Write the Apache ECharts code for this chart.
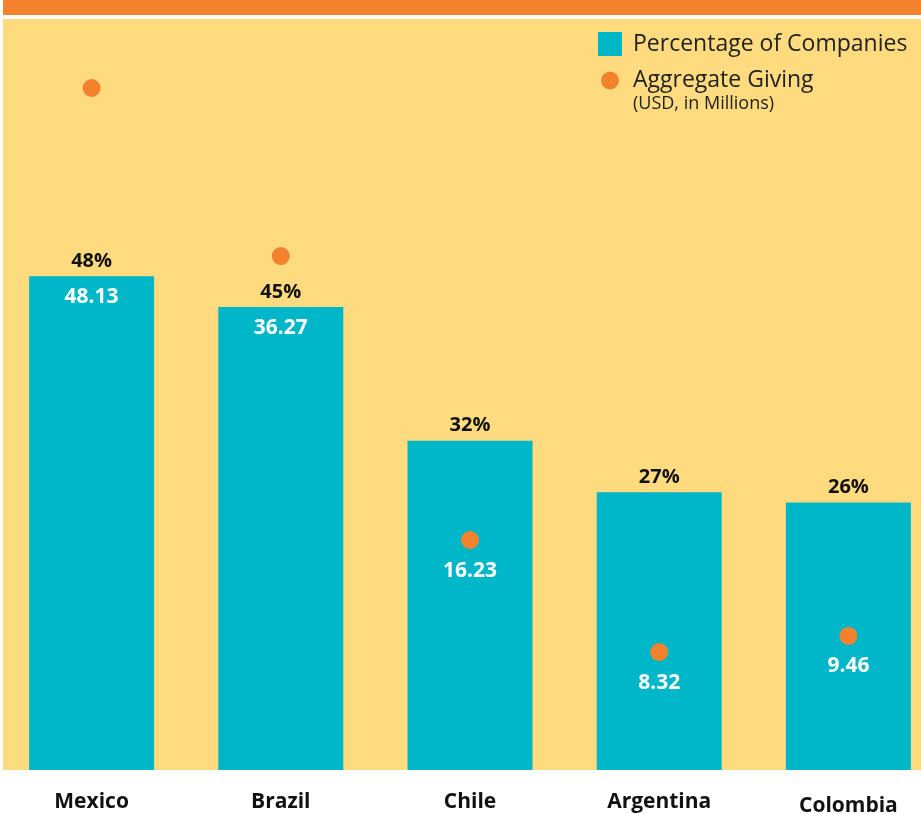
<!DOCTYPE html>
<html>
<head>
<meta charset="utf-8">
<script src="https://cdn.jsdelivr.net/npm/echarts@6/dist/echarts.min.js"></script>
<style>html,body{margin:0;padding:0;background:#fff}#c{width:921px;height:814px}</style>
</head>
<body>
<div id="c"></div>
<script>
var categories = ['Mexico', 'Brazil', 'Chile', 'Argentina', 'Colombia'];
var pctCompanies = [48, 45, 32, 27, 26];
var aggregateGiving = [48.13, 36.27, 16.23, 8.32, 9.46];

var PCT_MAX = 73;
var GIV_MAX = 53;
var TEAL = '#00B6C9', ORANGE = '#F4812B', YELLOW = '#FEDB7F';
var FONT = "'Open Sans', 'Noto Sans', sans-serif";

function dotAboveBar(i) { return aggregateGiving[i] / GIV_MAX > pctCompanies[i] / PCT_MAX; }

var chart = echarts.init(document.getElementById('c'));
chart.setOption({
  animation: false,
  backgroundColor: '#ffffff',
  graphic: [
    { type: 'rect', z: -10, shape: { x: 3, y: 0, width: 918, height: 15 }, style: { fill: ORANGE } },
    { type: 'rect', z: -10, shape: { x: 3, y: 19, width: 918, height: 751 }, style: { fill: YELLOW } },
    { type: 'text', left: 633, top: 95, style: { text: '(USD, in Millions)', fontSize: 18, fontFamily: FONT, fill: '#222' } }
  ],
  legend: [
    { data: ['Percentage of Companies'], orient: 'vertical', left: 598, top: 32, padding: 0, itemWidth: 24, itemHeight: 24, icon: 'rect',
      textStyle: { fontSize: 23, fontFamily: FONT, color: '#222', padding: [0, 0, 3, 6] } },
    { data: ['Aggregate Giving'], orient: 'vertical', left: 601, top: 69, padding: 0, itemWidth: 18, itemHeight: 18, icon: 'circle',
      textStyle: { fontSize: 23, fontFamily: FONT, color: '#222', padding: [0, 0, 6, 9] } }
  ],
  grid: { left: -3, right: -22, top: 19, bottom: 44, outerBoundsMode: 'none', containLabel: false },
  xAxis: {
    type: 'category',
    data: categories.map(function (c) {
      return c === 'Colombia' ? { value: c, textStyle: { padding: [4, 0, 0, 0] } } : c;
    }),
    axisLine: { show: false }, axisTick: { show: false },
    axisLabel: { margin: 22, fontSize: 21, fontWeight: 'bold', color: '#111', fontFamily: FONT }
  },
  yAxis: [
    { type: 'value', min: 0, max: PCT_MAX, show: false, splitLine: { show: false } },
    { type: 'value', min: 0, max: GIV_MAX, show: false, splitLine: { show: false } }
  ],
  series: [
    {
      name: 'Percentage of Companies', type: 'bar', yAxisIndex: 0, barWidth: 125,
      itemStyle: { color: TEAL }, data: pctCompanies,
      label: { show: true, position: 'top', distance: 5, formatter: '{c}%', fontSize: 20, fontWeight: 'bold', color: '#111', fontFamily: FONT }
    },
    {
      name: 'givingInBar', type: 'bar', yAxisIndex: 0, barWidth: 125, barGap: '-100%',
      itemStyle: { color: 'rgba(0,0,0,0)' }, silent: true,
      data: pctCompanies.map(function (v, i) {
        return { value: v, label: { show: dotAboveBar(i), formatter: String(aggregateGiving[i].toFixed(2)) } };
      }),
      label: { position: 'insideTop', distance: 10, fontSize: 21, fontWeight: 'bold', color: '#fff', fontFamily: FONT }
    },
    {
      name: 'Aggregate Giving', type: 'scatter', yAxisIndex: 1, symbol: 'circle', symbolSize: 18, z: 5,
      itemStyle: { color: ORANGE, opacity: 1 },
      data: aggregateGiving.map(function (v, i) {
        return { value: v, label: { show: !dotAboveBar(i) } };
      }),
      label: { position: 'bottom', distance: 11, formatter: function (p) { return p.value.toFixed(2); },
        fontSize: 21, fontWeight: 'bold', color: '#fff', fontFamily: FONT }
    }
  ]
});
</script>
</body>
</html>
